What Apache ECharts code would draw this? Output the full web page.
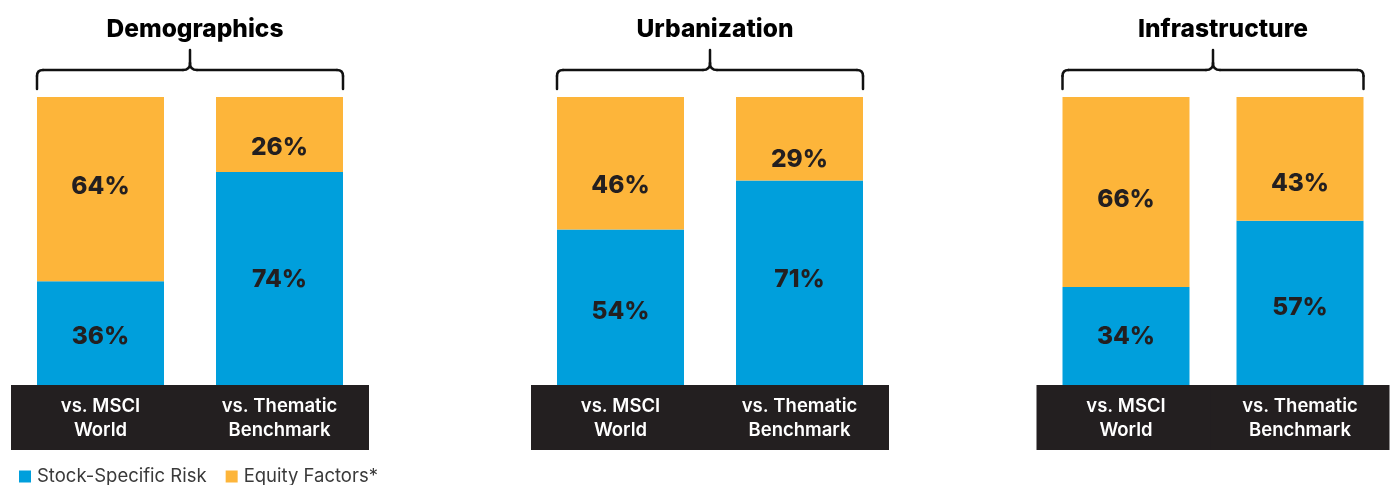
<!DOCTYPE html>
<html>
<head>
<meta charset="utf-8">
<script src="https://cdn.jsdelivr.net/npm/echarts@6/dist/echarts.min.js"></script>
<style>
  html, body { margin: 0; padding: 0; background: #fff; }
  #chart { width: 1390px; height: 485px; }
</style>
</head>
<body>
<div id="chart"></div>
<script>
// Panel titles and bar categories
const panelTitles = ['Demographics', 'Urbanization', 'Infrastructure'];
const categories = ['vs. MSCI\nWorld', 'vs. Thematic\nBenchmark'];
const seriesNames = ['Stock-Specific Risk', 'Equity Factors*'];

// Share of risk (%) per panel, one value per category
const stockSpecific = [[36, 74], [54, 71], [34, 57]];
const equityFactors = [[64, 26], [46, 29], [66, 43]];

// Vertical nudges (px) for the value labels inside each segment
const stockLabelShift = [[3, 1], [4, -3], [1, 5]];
const equityLabelShift = [[-3, 13], [22, 21], [8, 25]];

const BLUE = '#009fdc';
const ORANGE = '#fdb53a';
const INK = '#231f20';
const FONT = 'Inter, "Liberation Sans", Arial, sans-serif';

const gridLefts = [11, 531, 1039];
const gridWidth = 358;
const gridTop = 97;
const gridBottom = 100;
const barWidth = 127;

const grids = [], xAxes = [], yAxes = [], series = [], titles = [];

gridLefts.forEach((left, i) => {
  grids.push({ left: left, width: gridWidth, top: gridTop, bottom: gridBottom });
  xAxes.push({
    type: 'category', gridIndex: i, data: categories,
    axisLine: { show: false }, axisTick: { show: false },
    axisLabel: {
      interval: 0, margin: 0,
      color: '#fff', fontFamily: FONT, fontSize: 18.5, fontWeight: 600,
      lineHeight: 24, align: 'center',
      backgroundColor: INK,
      width: gridWidth / 2, padding: [9, 0, 8, 0], overflow: 'none'
    }
  });
  yAxes.push({ type: 'value', gridIndex: i, min: 0, max: 100, show: false });
  titles.push({
    text: panelTitles[i], left: left + gridWidth / 2, top: 12, textAlign: 'center',
    textStyle: { fontFamily: FONT, fontSize: 24.5, fontWeight: 800, color: '#000' }
  });

  const label = {
    show: true, position: 'inside', formatter: '{c}%',
    fontFamily: FONT, fontSize: 24.5, fontWeight: 800, color: INK
  };
  series.push({
    name: seriesNames[0], type: 'bar', stack: 'panel' + i,
    xAxisIndex: i, yAxisIndex: i, barWidth: barWidth,
    itemStyle: { color: BLUE }, label: label,
    data: stockSpecific[i].map((v, j) => ({ value: v, label: { offset: [0, stockLabelShift[i][j]] } }))
  });
  series.push({
    name: seriesNames[1], type: 'bar', stack: 'panel' + i,
    xAxisIndex: i, yAxisIndex: i, barWidth: barWidth,
    itemStyle: { color: ORANGE }, label: label,
    data: equityFactors[i].map((v, j) => ({ value: v, label: { offset: [0, equityLabelShift[i][j]] } }))
  });
});

const chart = echarts.init(document.getElementById('chart'), null, { renderer: 'canvas' });
chart.setOption({
  animation: false,
  title: titles,
  grid: grids,
  xAxis: xAxes,
  yAxis: yAxes,
  legend: {
    data: seriesNames, left: 14, top: 462, icon: 'rect',
    itemWidth: 12, itemHeight: 12, itemGap: 19, selectedMode: false,
    textStyle: { fontFamily: FONT, fontSize: 18.5, color: '#3a3a3a', padding: [0, 0, 0, 1] }
  },
  series: series
});

// Curly braces spanning each pair of bars, built from lines and curves
const braceStyle = { stroke: '#111', lineWidth: 2.5, fill: null, lineCap: 'round' };
const braceParts = [];
gridLefts.forEach((left, i) => {
  const c0 = chart.convertToPixel({ xAxisIndex: i }, 0);
  const c1 = chart.convertToPixel({ xAxisIndex: i }, 1);
  const x0 = c0 - barWidth / 2, x1 = c1 + barWidth / 2, xc = (x0 + x1) / 2;
  const yLine = 70, yEnd = 89, yTip = 50, r = 6, rc = 7;
  const line = (a, b, c, d) => braceParts.push({ type: 'line', shape: { x1: a, y1: b, x2: c, y2: d }, style: braceStyle, silent: true });
  const curve = (a, b, cx, cy, c, d) => braceParts.push({ type: 'bezierCurve', shape: { x1: a, y1: b, cpx1: cx, cpy1: cy, x2: c, y2: d }, style: braceStyle, silent: true });
  line(x0, yEnd, x0, yLine + r);
  curve(x0, yLine + r, x0, yLine, x0 + r, yLine);
  line(x0 + r, yLine, xc - rc, yLine);
  curve(xc - rc, yLine, xc, yLine, xc, yLine - rc);
  line(xc, yLine - rc, xc, yTip);
  curve(xc, yLine - rc, xc, yLine, xc + rc, yLine);
  line(xc + rc, yLine, x1 - r, yLine);
  curve(x1 - r, yLine, x1, yLine, x1, yLine + r);
  line(x1, yLine + r, x1, yEnd);
});
chart.setOption({ graphic: braceParts });
</script>
</body>
</html>
